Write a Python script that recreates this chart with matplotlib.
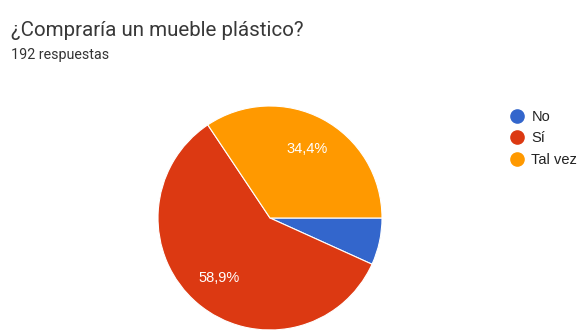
import matplotlib
matplotlib.use('Agg')
import matplotlib.pyplot as plt
from matplotlib.lines import Line2D

titulo = '¿Compraría un mueble plástico?'
subtitulo = '192 respuestas'
opciones = ['No', 'Sí', 'Tal vez']
respuestas = [13, 113, 66]
colores = ['#3366CC', '#DC3912', '#FF9900']

W, H = 579, 331
fig = plt.figure(figsize=(W / 100, H / 100), dpi=100)

# pie centre and radius in pixels
cx, cy, r = 270, 218, 112
ax = fig.add_axes([(cx - r) / W, (H - cy - r) / H, 2 * r / W, 2 * r / H])


def etiqueta(p):
    if p < 10:
        return ''
    return f'{p:.1f}%'.replace('.', ',')


cunas, textos, pcts = ax.pie(respuestas, colors=colores, startangle=0, counterclock=False,
                             autopct=etiqueta, pctdistance=0.7,
                             wedgeprops=dict(edgecolor='white', linewidth=0.8),
                             textprops=dict(color='white', fontsize=10.5, family='Liberation Sans'))
ax.set_xlim(-1, 1)
ax.set_ylim(-1, 1)

fig.text(11 / W, 1 - 30 / H, titulo, fontsize=14.8, family='Roboto', color='#383838', va='center')
fig.text(11 / W, 1 - 55 / H, subtitulo, fontsize=10.3, family='Roboto', color='#333333', va='center')

manijas = [Line2D([], [], marker='o', linestyle='', markersize=9.5, color=c) for c in colores]
fig.legend(manijas, opciones, loc='upper left', bbox_to_anchor=(497 / W, 1 - 100 / H),
           frameon=False, handletextpad=0.25, labelspacing=0.5, handlelength=1.4,
           borderpad=0.2, prop=dict(family='Liberation Sans', size=10.5), labelcolor='#222222')

fig.savefig('out.png', dpi=100)
